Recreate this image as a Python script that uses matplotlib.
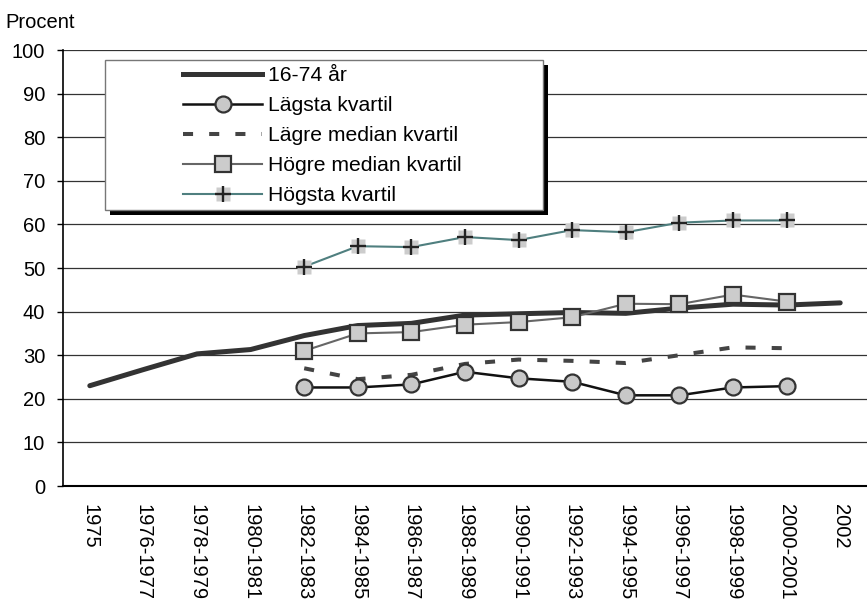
import matplotlib
matplotlib.use("Agg")
import matplotlib.pyplot as plt
from matplotlib.lines import Line2D
from matplotlib.patches import Rectangle
import numpy as np

plt.rcParams['font.family'] = ['Liberation Sans', 'DejaVu Sans']

periods = ["1975", "1976-1977", "1978-1979", "1980-1981", "1982-1983", "1984-1985",
           "1986-1987", "1988-1989", "1990-1991", "1992-1993", "1994-1995",
           "1996-1997", "1998-1999", "2000-2001", "2002"]

alla = [23.0, 26.7, 30.3, 31.3, 34.5, 36.8, 37.3, 39.2, 39.5, 39.8, 39.6, 40.8, 41.7, 41.5, 42.0]
lagsta = [22.6, 22.6, 23.3, 26.2, 24.7, 23.9, 20.8, 20.8, 22.6, 22.9]
lagre_median = [27.0, 24.5, 25.5, 28.0, 29.0, 28.7, 28.2, 30.0, 31.8, 31.6]
hogre_median = [31.0, 35.0, 35.3, 37.0, 37.6, 38.7, 41.8, 41.7, 43.9, 42.3]
hogsta = [50.3, 55.0, 54.8, 57.1, 56.4, 58.7, 58.2, 60.4, 60.9, 60.9]

x_all = np.arange(len(periods))
x_q = np.arange(4, 4 + len(lagsta))

fig = plt.figure(figsize=(8.67, 6.03), dpi=100)
ax = fig.add_axes([63/867, 1 - 486/603, 804/867, 436/603])

# styles
s_alla = dict(color='#333333', lw=3.6)
s_lag = dict(color='#111111', lw=1.8, marker='o', ms=11.5, mfc='#c8c8c8', mec='#333333', mew=1.6)
s_lmed = dict(color='#444444', lw=2.9, dashes=(2.5, 4.0))
s_hmed = dict(color='#666666', lw=1.5, marker='s', ms=11.5, mfc='#cccccc', mec='#333333', mew=1.6)
s_hog = dict(color='#4f7f7f', lw=1.5, marker='s', ms=10.5, mfc='#cccccc', mec='none')
s_plus = dict(ls='none', marker='+', ms=11.5, mec='#222222', mew=1.7)

ax.plot(x_all, alla, solid_capstyle='round', zorder=4, **s_alla)
ax.plot(x_q, lagsta, zorder=5, **s_lag)
ax.plot(x_q, lagre_median, zorder=4, **s_lmed)
ax.plot(x_q, hogre_median, zorder=5, **s_hmed)
ax.plot(x_q, hogsta, zorder=5, **s_hog)
ax.plot(x_q, hogsta, zorder=6, **s_plus)

ax.set_xlim(-0.5, len(periods) - 0.5)
ax.set_ylim(0, 100)
ax.set_yticks(range(0, 101, 10))
ax.set_xticks(x_all)
ax.set_xticklabels(periods, rotation=270, va='top', ha='center')
ax.tick_params(axis='x', length=0, pad=13, labelsize=14.5)
ax.tick_params(axis='y', length=4.3, width=1, pad=8.6, labelsize=14.5)
ax.grid(axis='y', color='#333333', lw=0.9)
ax.set_axisbelow(True)
for s in ['top', 'right']:
    ax.spines[s].set_visible(False)
ax.spines['left'].set_linewidth(1.2)
ax.spines['bottom'].set_linewidth(1.5)

fig.text(5/867, 1 - 22/603, "Procent", fontsize=14.5, va='center', ha='left')

# legend box with a hard black shadow
bx0, by0 = (105 - 63) / 804, (486 - 210) / 436
bw, bh = (543 - 105) / 804, (210 - 60) / 436
ax.add_patch(Rectangle((bx0 + 5/804, by0 - 5/436), bw, bh, transform=ax.transAxes,
                       facecolor='black', edgecolor='none', zorder=7, clip_on=False))
ax.add_patch(Rectangle((bx0, by0), bw, bh, transform=ax.transAxes,
                       facecolor='white', edgecolor='#777777', lw=1, zorder=8, clip_on=False))

handles = [
    Line2D([], [], **s_alla),
    Line2D([], [], **s_lag),
    Line2D([], [], **s_lmed),
    Line2D([], [], **s_hmed),
    (Line2D([], [], **s_hog), Line2D([], [], **s_plus)),
]
labels = ["16-74 år", "Lägsta kvartil", "Lägre median kvartil", "Högre median kvartil", "Högsta kvartil"]
leg = ax.legend(handles, labels, loc='upper left',
                bbox_to_anchor=((183 - 63) / 804, (486 - 66) / 436),
                frameon=False, fontsize=15.2, handlelength=3.75, handletextpad=0.3,
                labelspacing=0.52, borderpad=0, borderaxespad=0, numpoints=1)
leg.set_zorder(9)

fig.savefig("out.png", dpi=100)
